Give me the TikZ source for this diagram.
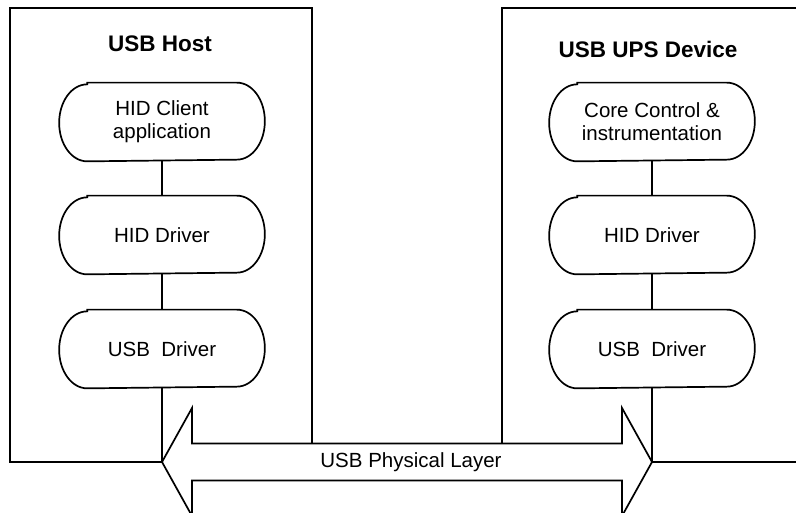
\documentclass[tikz,border=0pt]{standalone}
\usepackage{fontspec}
\setmainfont{Liberation Sans}
\begin{document}
\begin{tikzpicture}[x=1pt,y=-1pt,
  line width=1.7pt, line join=miter,
  stad/.style={draw=none, minimum width=204pt, minimum height=77pt, inner sep=0pt,
    align=center, font=\fontsize{20.5}{23}\selectfont},
  ttl/.style={font=\fontsize{22.5}{26}\selectfont\bfseries, inner sep=0pt},
  lbl/.style={font=\fontsize{20.5}{23}\selectfont, inner sep=0pt}]
\newcommand\drawstad[1]{%
  \draw ([xshift=28pt]#1.north west) -- ([xshift=-28pt]#1.north east)
    arc[start angle=90,end angle=-90,x radius=28pt,y radius=38.5pt]
    -- ([xshift=28pt]#1.south west)
    arc[start angle=270,end angle=90,x radius=28pt,y radius=38.5pt] -- cycle;}
\useasboundingbox (0,0) rectangle (796,513);
\clip (0,0) rectangle (796,513);
% boxes
\draw (10,8) rectangle (312,462);
\draw (502,8) rectangle (810,462);
% titles
\node[ttl] (th) at (160,43.5) {USB Host};
\node[ttl] (td) at (648,49) {USB UPS Device};
% nodes
\node[stad] (l1) at (162,122) {HID Client\\application};
\node[stad] (l2) at (162,235) {HID Driver};
\node[stad] (l3) at (162,349) {USB~~Driver};
\node[stad] (r1) at (652,122) {Core Control \&\\instrumentation};
\node[stad] (r2) at (652,235) {HID Driver};
\node[stad] (r3) at (652,349) {USB~~Driver};
\foreach \n in {l1,l2,l3,r1,r2,r3}{\drawstad{\n}}
\coordinate (ltip) at (162,462);
\coordinate (rtip) at (652,462);
\draw (l1.south) -- (l2.north);
\draw (l2.south) -- (l3.north);
\draw (l3.south) -- (ltip);
\draw (r1.south) -- (r2.north);
\draw (r2.south) -- (r3.north);
\draw (r3.south) -- (rtip);
% arrow
\draw[fill=white] (ltip) -- (192,408) -- (192,443.5) -- (622,443.5) -- (622,408) -- (rtip)
  -- (622,516) -- (622,480.5) -- (192,480.5) -- (192,516) -- cycle;
\node[lbl] (phy) at (411,462) {USB Physical Layer};
\end{tikzpicture}
\end{document}
